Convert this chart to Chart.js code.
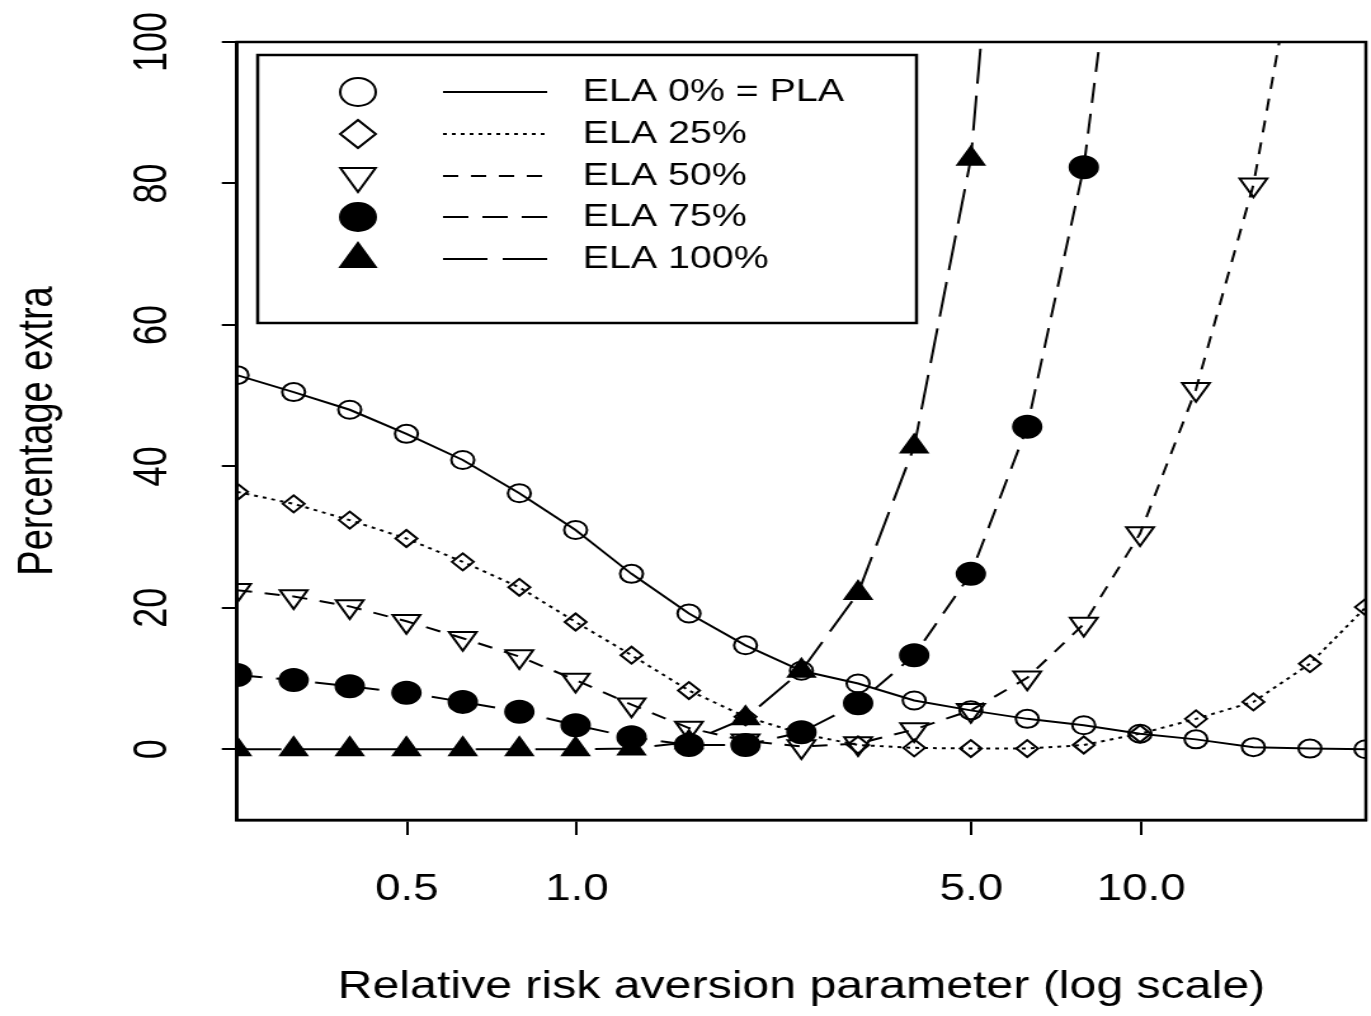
<!DOCTYPE html>
<html>
<head>
<meta charset="utf-8">
<title>Percentage extra vs relative risk aversion</title>
<script src="https://cdn.jsdelivr.net/npm/chart.js@4"></script>
<style>
  html, body { margin: 0; padding: 0; background: #fff; overflow: hidden; }
  /* the plot is drawn on a narrower canvas and stretched sideways */
  #wrap { width: 1080px; height: 1016px; transform: scaleX(1.2694); transform-origin: 0 0; }
</style>
</head>
<body>
<div id="wrap"><canvas id="chart" width="1080" height="1016"></canvas></div>
<script>
// relative risk aversion grid (log spaced) and percentage extra per ELA share
const riskAversion = [0.25, 0.315, 0.396, 0.499, 0.628, 0.791, 0.995, 1.25, 1.58, 1.99, 2.5,
                      3.15, 3.96, 4.99, 6.28, 7.91, 9.95, 12.5, 15.8, 19.9, 25];
const ela0   = [52.9, 50.5, 48.0, 44.6, 40.9, 36.2, 31.0, 24.8, 19.2, 14.7, 11.1,
                9.3, 6.9, 5.5, 4.3, 3.4, 2.2, 1.4, 0.3, 0.1, 0.0];
const ela25  = [36.4, 34.7, 32.4, 29.8, 26.5, 22.9, 18.0, 13.3, 8.3, 4.6, 2.2,
                0.6, 0.2, 0.1, 0.1, 0.6, 2.2, 4.3, 6.7, 12.1, 20.1];
const ela50  = [22.5, 21.6, 20.2, 18.1, 15.7, 13.1, 9.8, 6.3, 3.0, 1.2, 0.4,
                0.8, 2.8, 5.5, 10.1, 17.7, 30.5, 50.9, 79.8, 124, null];
const ela75  = [10.5, 9.8, 8.9, 8.0, 6.7, 5.3, 3.4, 1.7, 0.6, 0.6, 2.4,
                6.5, 13.3, 24.8, 45.6, 82.3, 145, null, null, null, null];
const ela100 = [0, 0, 0, 0, 0, 0, 0, 0.1, 1.0, 4.4, 11.1,
                22.1, 42.8, 83.5, 175, null, null, null, null, null, null];

const seriesLabels = ['ELA 0% = PLA', 'ELA 25%', 'ELA 50%', 'ELA 75%', 'ELA 100%'];
const seriesValues = [ela0, ela25, ela50, ela75, ela100];
const xTicks = [0.5, 1, 5, 10];
const yTicks = [0, 20, 40, 60, 80, 100];

const FONT = "'Liberation Sans', Arial, Helvetica, sans-serif";
Chart.defaults.font.family = FONT;
Chart.defaults.color = '#000';

// marker / line style per series: plot marker size, legend marker size
const styles = [
  { point: 'circle',   r: 9,    lr: 14, rot: 0,   filled: false, dash: [] },
  { point: 'rectRot',  r: 8.5,  lr: 14, rot: 0,   filled: false, dash: [3, 4] },
  { point: 'triangle', r: 12.5, lr: 16, rot: 180, filled: false, dash: [12, 10] },
  { point: 'circle',   r: 11,   lr: 14, rot: 0,   filled: true,  dash: [20, 11] },
  { point: 'triangle', r: 12,   lr: 16, rot: 0,   filled: true,  dash: [35, 12] }
];

const datasets = seriesValues.map((vals, i) => {
  const s = styles[i];
  return {
    label: seriesLabels[i],
    data: riskAversion.map((x, j) => ({ x, y: vals[j] })),
    borderColor: '#000',
    borderWidth: 2,
    borderDash: s.dash,
    tension: 0,
    fill: false,
    spanGaps: false,
    clip: 0,
    pointStyle: s.point,
    pointRadius: s.r,
    pointRotation: s.rot,
    pointBorderWidth: 2,
    pointBorderColor: '#000',
    pointBackgroundColor: s.filled ? '#000' : 'rgba(0,0,0,0)',
    legendRadius: s.lr
  };
});

// frame round the plotting region
const boxPlugin = {
  id: 'box',
  afterDatasetsDraw(chart) {
    const { ctx, chartArea: a } = chart;
    ctx.save();
    ctx.strokeStyle = '#000';
    ctx.lineWidth = 2.5;
    ctx.strokeRect(a.left, a.top, a.right - a.left, a.bottom - a.top);
    ctx.restore();
  }
};

// legend: marker, line sample, label inside a framed box
const legendPlugin = {
  id: 'sampleLegend',
  afterDraw(chart) {
    const ctx = chart.ctx;
    const box = { left: 203, top: 55, right: 722, bottom: 323 };
    const rowY = [92, 134, 176, 217, 259];
    ctx.save();
    ctx.strokeStyle = '#000';
    ctx.lineWidth = 2.5;
    ctx.setLineDash([]);
    ctx.strokeRect(box.left, box.top, box.right - box.left, box.bottom - box.top);
    chart.data.datasets.forEach((ds, i) => {
      const y = rowY[i];
      ctx.strokeStyle = '#000';
      ctx.fillStyle = ds.pointBackgroundColor;
      ctx.lineWidth = 2;
      ctx.setLineDash([]);
      Chart.helpers.drawPoint(ctx, {
        pointStyle: ds.pointStyle, rotation: ds.pointRotation,
        radius: ds.legendRadius, borderWidth: 2
      }, 282, y);
      ctx.setLineDash(ds.borderDash);
      ctx.beginPath();
      ctx.moveTo(349, y);
      ctx.lineTo(431, y);
      ctx.stroke();
      ctx.setLineDash([]);
      ctx.fillStyle = '#000';
      ctx.font = '31px ' + FONT;
      ctx.textBaseline = 'middle';
      ctx.textAlign = 'left';
      ctx.fillText(ds.label, 459, y);
    });
    ctx.restore();
  }
};

new Chart(document.getElementById('chart').getContext('2d'), {
  type: 'line',
  data: { datasets },
  options: {
    responsive: false,
    animation: false,
    events: [],
    layout: { autoPadding: false, padding: { top: 42, right: 4, left: 0, bottom: 0 } },
    plugins: { legend: { display: false }, tooltip: { enabled: false }, title: { display: false } },
    scales: {
      x: {
        type: 'logarithmic',
        min: 0.25,
        max: 25,
        afterBuildTicks: s => { s.ticks = xTicks.map(v => ({ value: v })); },
        afterFit: s => {
          s.height = 196;
          s.paddingLeft = 0; s.paddingRight = 0;
        },
        ticks: {
          autoSkip: false,
          maxRotation: 0,
          padding: 33,
          font: { size: 36 },
          color: '#000',
          callback: v => Number(v).toFixed(1)
        },
        grid: { drawOnChartArea: false, drawTicks: true, tickLength: 15, color: '#000', lineWidth: 2 },
        border: { display: true, color: '#000', width: 2.5 },
        title: {
          display: true,
          text: 'Relative risk aversion parameter (log scale)',
          font: { size: 38 },
          color: '#000',
          padding: { top: 0, bottom: 6 }
        }
      },
      y: {
        min: -10,
        max: 100,
        afterBuildTicks: s => { s.ticks = yTicks.map(v => ({ value: v })); },
        afterFit: s => {
          s.width = 186.7;
          s.paddingTop = 0; s.paddingBottom = 0;
        },
        ticks: {
          minRotation: 90,
          maxRotation: 90,
          crossAlign: 'center',
          padding: 24,
          font: { size: 36 },
          color: '#000'
        },
        grid: { drawOnChartArea: false, drawTicks: true, tickLength: 12, color: '#000', lineWidth: 2 },
        border: { display: true, color: '#000', width: 2.5 },
        title: {
          display: true,
          text: 'Percentage extra',
          font: { size: 38 },
          color: '#000',
          padding: { top: 8, bottom: 0 }
        }
      }
    }
  },
  plugins: [boxPlugin, legendPlugin]
});
</script>
</body>
</html>
